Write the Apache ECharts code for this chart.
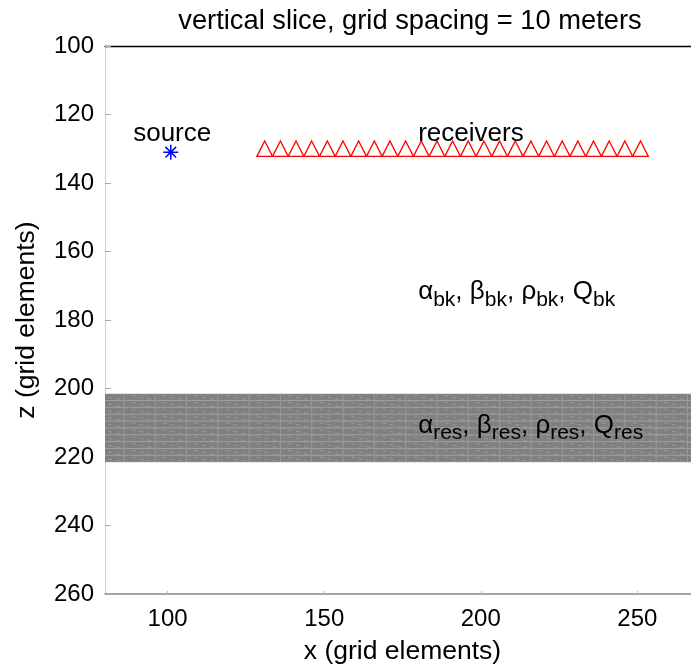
<!DOCTYPE html>
<html>
<head>
<meta charset="utf-8">
<title>vertical slice</title>
<script src="https://cdn.jsdelivr.net/npm/echarts@6/dist/echarts.min.js"></script>
<style>
  html, body { margin: 0; padding: 0; background: #fff; overflow: hidden; }
  /* the plot runs past the right edge of the page */
  #chart { width: 720px; height: 670px; }
</style>
</head>
<body>
<div id="chart"></div>
<script>
// Model geometry (grid-element units)
const xRange = [80, 270];
const zRange = [100, 260];
const xTickValues = [100, 150, 200, 250];
const zTickValues = [100, 120, 140, 160, 180, 200, 220, 240, 260];

// Source position
const sourceX = [101];
const sourceZ = [131];

// Receiver line
const receiverX = [131, 136, 141, 146, 151, 156, 161, 166, 171, 176, 181, 186, 191,
                   196, 201, 206, 211, 216, 221, 226, 231, 236, 241, 246, 251];
const receiverZ = 130;

// Reservoir layer extent in depth
const reservoirTop = 201.5;
const reservoirBottom = 221.5;

// Annotation anchors: [x, z]
const sourceLabelPos = [89, 125.5];
const receiverLabelPos = [180, 125.5];
const backgroundLabelPos = [180, 171.8];
const reservoirLabelPos = [180, 210.8];

const FONT = "'Liberation Sans', Arial, Helvetica, sans-serif";

// Mesh drawn over the reservoir band (cell size in grid units)
const meshDx = 10, meshDz = 2, meshX0 = 76;

function propLabel(sub) {
  return '{m|\u03b1}{s|' + sub + '}{m|, \u03b2}{s|' + sub + '}{m|, \u03c1}{s|' + sub +
         '}{m|, Q}{s|' + sub + '}';
}
const richStyles = {
  m: { fontSize: 26, fontFamily: FONT, color: '#000', lineHeight: 32 },
  s: { fontSize: 21, fontFamily: FONT, color: '#000', lineHeight: 16, padding: [16, 0, 0, 0] }
};

const chart = echarts.init(document.getElementById('chart'), null, { renderer: 'canvas' });

const option = {
  animation: false,
  backgroundColor: '#fff',
  title: {
    text: 'vertical slice, grid spacing = 10 meters',
    left: 405, top: 3, textAlign: 'center',
    textStyle: { fontFamily: FONT, fontSize: 27.3, fontWeight: 'normal', color: '#000' }
  },
  grid: { left: 105, right: 20, top: 46, bottom: 74.5, containLabel: false },
  xAxis: [{
    type: 'value', min: xRange[0], max: xRange[1], position: 'bottom',
    name: 'x (grid elements)', nameLocation: 'middle', nameGap: 44,
    nameTextStyle: { fontFamily: FONT, fontSize: 26.5, color: '#000' },
    axisLine: { show: true, onZero: false, lineStyle: { color: '#888', width: 1.5 } },
    axisTick: { show: true, inside: true, length: 3, customValues: xTickValues, lineStyle: { color: '#bbb' } },
    axisLabel: { customValues: xTickValues, fontFamily: FONT, fontSize: 24, color: '#000', margin: 13 },
    splitLine: { show: false }
  }, {
    type: 'value', min: xRange[0], max: xRange[1], position: 'top',
    axisLine: { show: true, onZero: false, lineStyle: { color: '#000', width: 1.3 } },
    axisTick: { show: false }, axisLabel: { show: false }, splitLine: { show: false }
  }],
  yAxis: {
    type: 'value', inverse: true, min: zRange[0], max: zRange[1], interval: 20,
    name: 'z (grid elements)', nameLocation: 'middle', nameGap: 65, nameRotate: 90,
    nameTextStyle: { fontFamily: FONT, fontSize: 26.5, color: '#000' },
    axisLine: { show: true, onZero: false, lineStyle: { color: '#c4c4c4', type: 'dotted', width: 1 } },
    axisTick: { show: true, inside: true, length: 6, lineStyle: { color: '#aaa' } },
    axisLabel: {
      fontFamily: FONT, fontSize: 24, color: '#000', margin: 11,
      customValues: zTickValues
    },
    splitLine: { show: false }
  },
  series: [
    {
      // reservoir layer
      type: 'custom',
      clip: true,
      silent: true,
      data: [[xRange[0], xRange[1], reservoirTop, reservoirBottom]],
      renderItem: function (params, api) {
        const x0 = api.value(0), x1 = api.value(1), z0 = api.value(2), z1 = api.value(3);
        const p0 = api.coord([x0, z0]);
        const p1 = api.coord([x1, z1]);
        const children = [{
          type: 'rect',
          shape: { x: p0[0], y: p0[1], width: p1[0] - p0[0], height: p1[1] - p0[1] },
          style: { fill: '#808080' }
        }];
        for (let z = z0; z <= z1 + 1e-6; z += meshDz) {
          const a = api.coord([x0, z]), b = api.coord([x1, z]);
          children.push({ type: 'line', shape: { x1: a[0], y1: a[1], x2: b[0], y2: b[1] },
            style: { stroke: '#a0a0a0', lineWidth: 1 } });
        }
        for (let x = meshX0; x <= x1 + meshDx; x += meshDx) {
          const a = api.coord([x, z0]), b = api.coord([x, z1]);
          if (x > x0 && x < x1) {
            children.push({ type: 'line', shape: { x1: a[0], y1: a[1], x2: b[0], y2: b[1] },
              style: { stroke: '#9a9a9a', lineWidth: 1 } });
          }
          for (let z = z0; z < z1 - 1e-6; z += meshDz) {
            const c = api.coord([x, z]), d = api.coord([x + meshDx, z + meshDz]);
            children.push({ type: 'line', shape: { x1: c[0], y1: c[1], x2: d[0], y2: d[1] },
              style: { stroke: '#999999', lineWidth: 1, lineDash: [4, 4] } });
          }
        }
        return {
          type: 'group', children: children,
          clipPath: { type: 'rect', shape: { x: p0[0], y: p0[1], width: p1[0] - p0[0], height: p1[1] - p0[1] } }
        };
      },
      z: 1
    },
    {
      // receivers
      type: 'scatter',
      data: receiverX.map(function (x) { return [x, receiverZ]; }),
      symbol: 'triangle',
      symbolSize: [15.7, 15.4],
      itemStyle: { color: 'rgba(0,0,0,0)', borderColor: '#ff0000', borderWidth: 1.3, opacity: 1 },
      silent: true, z: 3
    },
    {
      // source
      type: 'scatter',
      data: sourceX.map(function (x, i) { return [x, sourceZ[i]]; }),
      symbol: 'path://M0,-10L0,10M-10,0L10,0M-7.07,-7.07L7.07,7.07M-7.07,7.07L7.07,-7.07',
      symbolSize: 15,
      itemStyle: { color: 'rgba(0,0,0,0)', borderColor: '#0000ff', borderWidth: 1.5, opacity: 1 },
      silent: true, z: 3
    },
    {
      // text annotations
      type: 'scatter',
      symbolSize: 0,
      silent: true,
      z: 4,
      itemStyle: { opacity: 1 },
      label: { show: true, position: [0, 0], align: 'left', verticalAlign: 'middle',
               fontFamily: FONT, fontSize: 26, color: '#000', textBorderWidth: 0 },
      data: [
        { value: sourceLabelPos, label: { formatter: 'source' } },
        { value: receiverLabelPos, label: { formatter: 'receivers' } },
        { value: backgroundLabelPos, label: { formatter: propLabel('bk'), rich: richStyles } },
        { value: reservoirLabelPos, label: { formatter: propLabel('res'), rich: richStyles } }
      ]
    }
  ]
};

chart.setOption(option);
</script>
</body>
</html>
